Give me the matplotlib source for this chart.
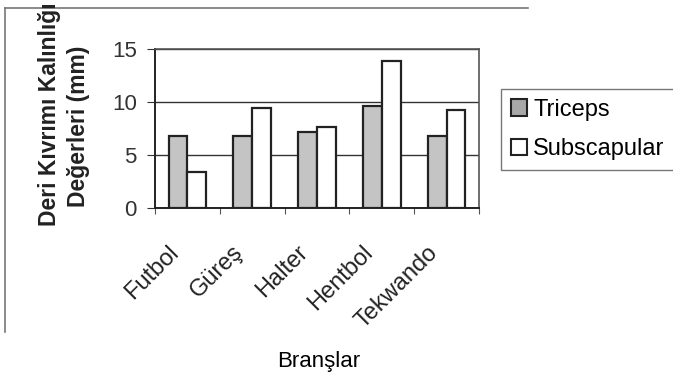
import matplotlib.pyplot as plt
import matplotlib.transforms as mtransforms
import numpy as np
from matplotlib.lines import Line2D
from matplotlib.patches import Patch

plt.rcParams['font.family'] = ['Liberation Sans', 'DejaVu Sans']

branches = ['Futbol', 'Güreş', 'Halter', 'Hentbol', 'Tekwando']
triceps = [6.8, 6.8, 7.2, 9.6, 6.8]
subscapular = [3.4, 9.4, 7.6, 13.9, 9.2]

fig = plt.figure(figsize=(6.73, 3.79), dpi=100)
ax = fig.add_axes([0.2303, 0.4512, 0.4814, 0.4195])

x = np.arange(len(branches))
w = 0.29
ax.bar(x - w / 2, triceps, w, color='#c4c4c4', edgecolor='#222222', linewidth=1.6, zorder=3)
ax.bar(x + w / 2, subscapular, w, color='white', edgecolor='#222222', linewidth=1.6, zorder=3)

ax.set_xlim(-0.5, 4.5)
ax.set_ylim(0, 15)
ax.set_yticks([0, 5, 10, 15])
ax.yaxis.grid(True, color='#333333', linewidth=1.0, zorder=0)
ax.set_xticks(np.arange(-0.5, 5, 1))
ax.set_xticklabels([])
ax.set_xticks(x, minor=True)
ax.set_xticklabels(branches, minor=True, rotation=45, ha='right',
                   rotation_mode='anchor', fontsize=17, color='#222222')
ax.tick_params(axis='x', which='minor', length=0, pad=24)
ax.tick_params(axis='x', which='major', length=4, color='#555555')
ax.tick_params(axis='y', length=6, labelsize=16, color='#333333', pad=7,
               labelcolor='#333333')
# shift the slanted labels left, like the original
shift = mtransforms.ScaledTranslation(-20 / 100, 0, fig.dpi_scale_trans)
for lab in ax.get_xticklabels(minor=True):
    lab.set_transform(lab.get_transform() + shift)
for s in ['left', 'bottom']:
    ax.spines[s].set_color('#222222')
    ax.spines[s].set_linewidth(1.4)
for s in ['top', 'right']:
    ax.spines[s].set_color('#555555')
    ax.spines[s].set_linewidth(1.2)

fig.text(0.073, 0.70, 'Deri Kıvrımı Kalınlığı', rotation=90, ha='center', va='center',
         fontsize=16.5, fontweight='bold', color='#222222')
fig.text(0.117, 0.667, 'Değerleri (mm)', rotation=90, ha='center', va='center',
         fontsize=16.5, fontweight='bold', color='#222222')
fig.text(0.473, 0.045, 'Branşlar', ha='center', va='center', fontsize=16)

handles = [Patch(facecolor='#a8a8a8', edgecolor='#222222', linewidth=1.5, label='Triceps'),
           Patch(facecolor='white', edgecolor='#222222', linewidth=1.5, label='Subscapular')]
leg = fig.legend(handles=handles, loc='upper left', bbox_to_anchor=(0.745, 0.765),
                 fontsize=17, frameon=True, fancybox=False, borderpad=0.4,
                 handlelength=0.7, handleheight=0.7, handletextpad=0.25,
                 labelspacing=0.75, borderaxespad=0)
leg.get_frame().set_edgecolor('#555555')
leg.get_frame().set_linewidth(1.0)

fig.add_artist(Line2D([0.0074, 0.785], [0.979, 0.979], color='#777777', linewidth=1.2))
fig.add_artist(Line2D([0.0074, 0.0074], [0.979, 0.124], color='#777777', linewidth=1.2))

fig.savefig('out.png', dpi=100)
